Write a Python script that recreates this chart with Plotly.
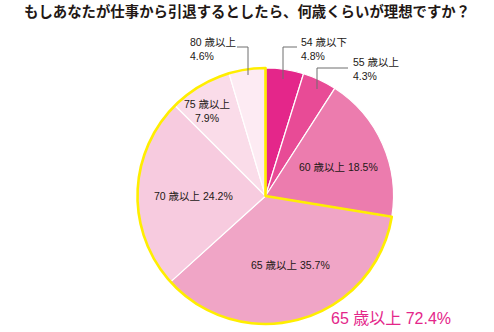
import plotly.graph_objects as go

# Survey answers: ideal retirement age
ages = ["54 歳以下", "55 歳以上", "60 歳以上", "65 歳以上", "70 歳以上", "75 歳以上", "80 歳以上"]
shares = [4.8, 4.3, 18.5, 35.7, 24.2, 7.9, 4.6]
colors = ["#E4268A", "#E84B96", "#EC7CAE", "#F0A5C6", "#F7CBDF", "#FADCE9", "#FDEBF3"]

# 65 and over, highlighted as a group
group_start = 3
group_total = round(sum(shares[group_start:]), 1)
rest_total = round(sum(shares[:group_start]), 1)

W, H = 494, 332
TEXT = "#231815"
FONT = "Liberation Sans, Noto Sans CJK JP"
TITLE_FONT = "Noto Sans CJK JP"
dom_x = [137.5 / W, 393.5 / W]
dom_y = [8 / H, 264 / H]


def px(x):
    return x / W


def py(y):
    return 1 - y / H


fig = go.Figure()
fig.add_trace(go.Pie(
    labels=ages, values=shares, sort=False, direction="clockwise", rotation=0,
    marker=dict(colors=colors, line=dict(color="white", width=1.2)),
    textinfo="none", hoverinfo="skip", showlegend=False,
    domain=dict(x=dom_x, y=dom_y),
))
# Yellow outline around the 65+ group
fig.add_trace(go.Pie(
    labels=["~64", "65~"], values=[rest_total, group_total], sort=False,
    direction="clockwise", rotation=0,
    marker=dict(colors=["rgba(0,0,0,0)", "rgba(0,0,0,0)"],
                line=dict(color=["rgba(0,0,0,0)", "#FFEE00"], width=[0, 2.6])),
    textinfo="none", hoverinfo="skip", showlegend=False,
    domain=dict(x=dom_x, y=dom_y),
))

ann = []


def label(text, x, y, xanchor="center", align="center", size=10.5, color=TEXT):
    ann.append(dict(text=text, x=px(x), y=py(y), xref="paper", yref="paper",
                    xanchor=xanchor, yanchor="middle", align=align, showarrow=False,
                    font=dict(family=FONT, size=size, color=color)))


def pct(i):
    return f"{shares[i]:.1f}%"


# outside labels with leader lines
for i, x, y in ((6, 188, 49.5), (0, 299, 49), (1, 351, 69)):
    label(f"{ages[i]}<br>{pct(i)}", x, y, xanchor="left", align="left")
# inside labels
label(f"{ages[5]}<br>{pct(5)}", 207, 111)
label(f"{ages[2]} {pct(2)}", 338, 167)
label(f"{ages[4]} {pct(4)}", 193, 196)
label(f"{ages[3]} {pct(3)}", 290, 265)
# group total
label(f"65 歳以上 {group_total:.1f}%", 390.5, 318, size=16, color="#E4268A")

# title
ann.append(dict(text="<b>もしあなたが仕事から引退するとしたら、何歳くらいが理想ですか？</b>",
                x=0.5, y=py(10), xref="paper", yref="paper", xanchor="center",
                yanchor="middle", showarrow=False,
                font=dict(family=TITLE_FONT, size=14.4, color=TEXT)))

shapes = []
for pts in ([(237, 47), (248, 47), (248, 75)],
            [(297, 47), (283, 47), (283, 79)],
            [(348, 68), (317, 68), (317, 89)]):
    path = "M " + " L ".join(f"{px(x)},{py(y)}" for x, y in pts)
    shapes.append(dict(type="path", path=path, xref="paper", yref="paper",
                       line=dict(color="#6E6E6E", width=1)))

fig.update_layout(
    width=W, height=H, margin=dict(l=0, r=0, t=0, b=0),
    paper_bgcolor="white", plot_bgcolor="white",
    annotations=ann, shapes=shapes,
)
fig.write_html("out.html")
